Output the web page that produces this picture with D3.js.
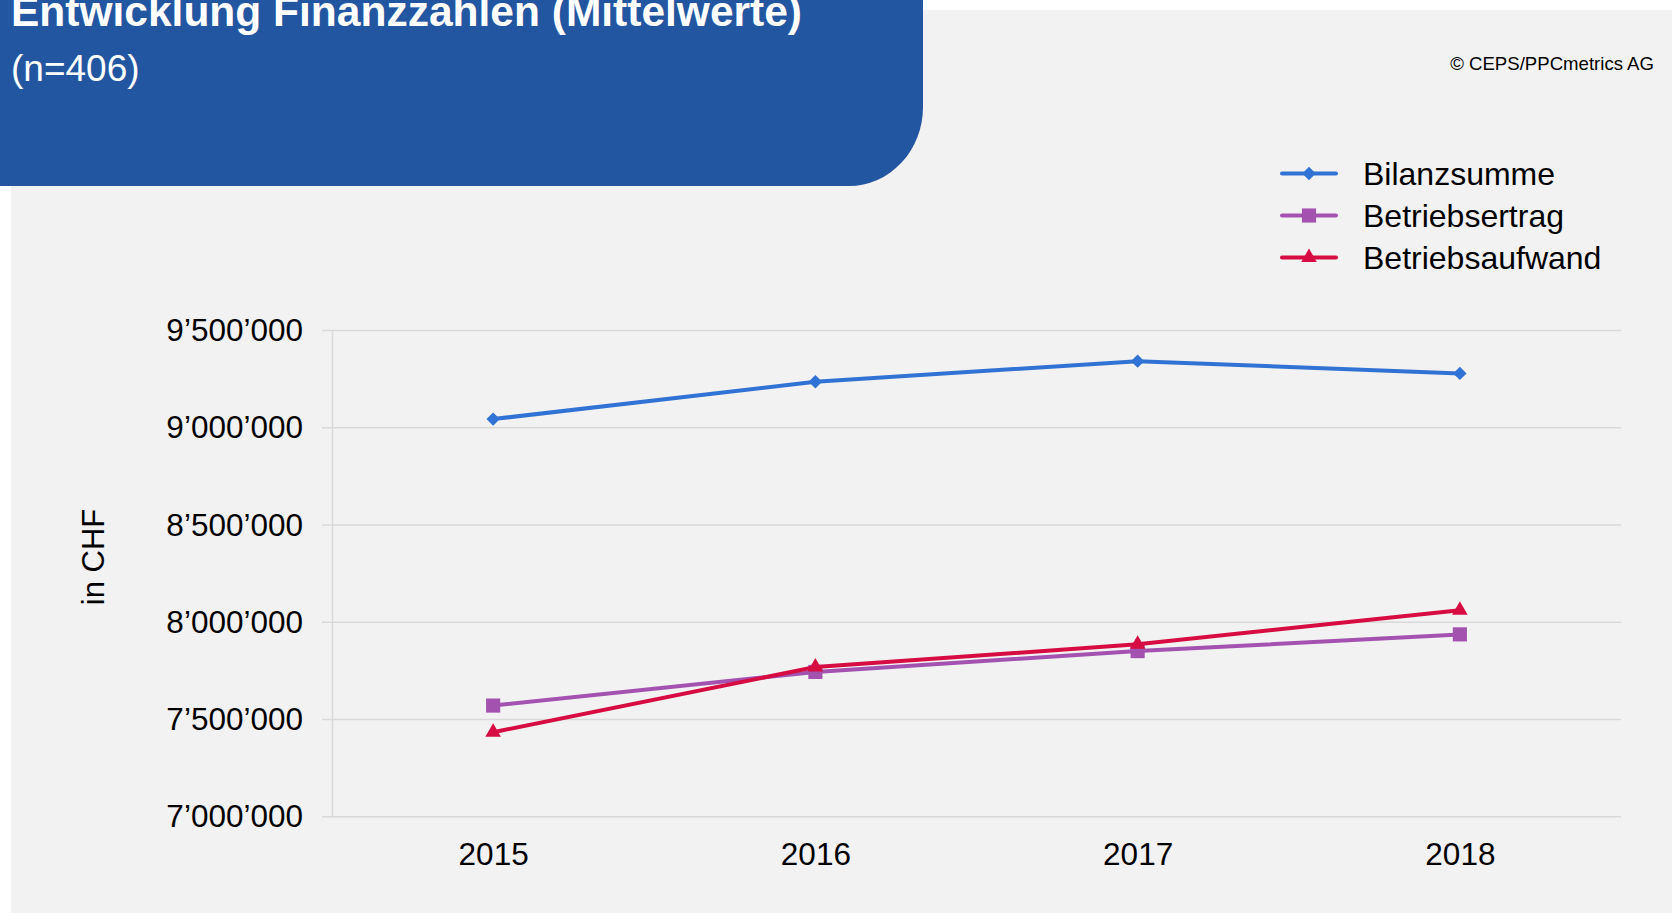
<!DOCTYPE html>
<html>
<head>
<meta charset="utf-8">
<script src="https://cdn.jsdelivr.net/npm/d3@7"></script>
<style>
  body { margin: 0; background: #fff; }
  svg { display: block; font-family: "Liberation Sans", Arial, sans-serif; }
</style>
</head>
<body>
<div id="chart"></div>
<script>
// data
const years = ["2015", "2016", "2017", "2018"];
const bilanzsumme = [9045000, 9237000, 9343000, 9280000];
const betriebsertrag = [7572000, 7745000, 7852000, 7938000];
const betriebsaufwand = [7435000, 7770000, 7887000, 8062000];
const yTicks = [7000000, 7500000, 8000000, 8500000, 9000000, 9500000];

const series = [
  {name: "Bilanzsumme", values: bilanzsumme, color: "#3173d4", symbol: d3.symbolSquare, size: 90, rot: 45},
  {name: "Betriebsertrag", values: betriebsertrag, color: "#a352b0", symbol: d3.symbolSquare, size: 200, rot: 0},
  {name: "Betriebsaufwand", values: betriebsaufwand, color: "#d60c42", symbol: d3.symbolTriangle, size: 105, rot: 0}
];

const W = 1672, H = 913;
const svg = d3.select("#chart").append("svg")
  .attr("width", W).attr("height", H);

// grey panel
svg.append("rect").attr("x", 11).attr("y", 10).attr("width", W - 11).attr("height", H - 10)
  .attr("fill", "#f2f2f2");

// blue header box, rounded lower right corner
const bx = 923, by = 186, rx = 74, ry = 79;
svg.append("path")
  .attr("d", `M0,0 H${bx} V${by - ry} A${rx},${ry} 0 0 1 ${bx - rx},${by} H0 Z`)
  .attr("fill", "#2356a1");

// title is cut at the top edge, as in the original
svg.append("text").attr("x", 11).attr("y", 26)
  .attr("fill", "#fff").attr("font-size", 42.5).attr("font-weight", "bold")
  .text("Entwicklung Finanzzahlen (Mittelwerte)");
svg.append("text").attr("x", 11).attr("y", 81)
  .attr("fill", "#fff").attr("font-size", 37)
  .text("(n=406)");

svg.append("text").attr("x", 1654).attr("y", 70)
  .attr("text-anchor", "end").attr("font-size", 18.6).attr("fill", "#000")
  .text("© CEPS/PPCmetrics AG");

// plot area
const pLeft = 332, pRight = 1621, pTop = 330.6, pBottom = 816.8;

const x = d3.scalePoint().domain(years).range([pLeft, pRight]).padding(0.5);
const y = d3.scaleLinear().domain([7000000, 9500000]).range([pBottom, pTop]);

const fmt = v => d3.format(",")(v).replace(/,/g, "\u2019");

// gridlines
svg.append("g").selectAll("line").data(yTicks).join("line")
  .attr("x1", pLeft - 10).attr("x2", pRight)
  .attr("y1", d => y(d)).attr("y2", d => y(d))
  .attr("stroke", "#d9d9d9").attr("stroke-width", 1.5);

// y axis
const yAxis = svg.append("g").attr("transform", `translate(${pLeft},0)`)
  .call(d3.axisLeft(y).tickValues(yTicks).tickFormat(fmt).tickSize(0).tickPadding(29));
yAxis.select(".domain").attr("stroke", "#d9d9d9").attr("stroke-width", 1.5);
yAxis.selectAll("text").attr("font-size", 31.5).attr("fill", "#000")
  .attr("font-family", "Liberation Sans, Arial, sans-serif");

// x axis
const xAxis = svg.append("g").attr("transform", `translate(0,${pBottom})`)
  .call(d3.axisBottom(x).tickSize(0).tickPadding(26));
xAxis.select(".domain").remove();
xAxis.selectAll("text").attr("font-size", 31.5).attr("fill", "#000")
  .attr("font-family", "Liberation Sans, Arial, sans-serif");

svg.append("text")
  .attr("transform", "translate(104,557) rotate(-90)")
  .attr("text-anchor", "middle").attr("font-size", 31).attr("fill", "#000")
  .text("in CHF");

// lines + markers
const line = d3.line().x((d, i) => x(years[i])).y(d => y(d));
series.forEach(s => {
  svg.append("path").datum(s.values)
    .attr("d", line).attr("fill", "none")
    .attr("stroke", s.color).attr("stroke-width", 4);
  svg.append("g").selectAll("path").data(s.values).join("path")
    .attr("transform", (d, i) => `translate(${x(years[i])},${y(d)}) rotate(${s.rot})`)
    .attr("d", d3.symbol().type(s.symbol).size(s.size))
    .attr("fill", s.color);
});

// legend
const legend = svg.append("g");
series.forEach((s, i) => {
  const ly = 173.5 + i * 42;
  legend.append("line").attr("x1", 1282).attr("x2", 1336).attr("y1", ly).attr("y2", ly)
    .attr("stroke", s.color).attr("stroke-width", 4).attr("stroke-linecap", "round");
  legend.append("path").attr("transform", `translate(1309,${ly}) rotate(${s.rot})`)
    .attr("d", d3.symbol().type(s.symbol).size(s.size)).attr("fill", s.color);
  legend.append("text").attr("x", 1363).attr("y", ly + 11)
    .attr("font-size", 32).attr("fill", "#000").text(s.name);
});
</script>
</body>
</html>
